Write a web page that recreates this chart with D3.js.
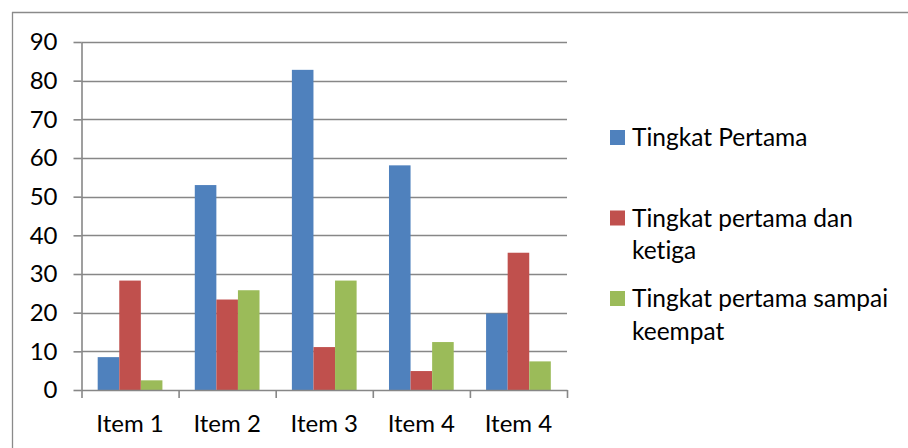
<!DOCTYPE html>
<html>
<head>
<meta charset="utf-8">
<script src="https://cdn.jsdelivr.net/npm/d3@7"></script>
<style>
  html, body { margin: 0; padding: 0; background: #fff; }
  svg { display: block; font-family: Lato, "Open Sans", sans-serif; font-variant-ligatures: none; font-feature-settings: "liga" 0, "clig" 0; }
</style>
</head>
<body>
<svg id="chart" width="908" height="448"></svg>
<script>
// Category labels (the last two share the same name)
const categories = ["Item 1", "Item 2", "Item 3", "Item 4", "Item 4"];
// Series names
const seriesNames = ["Tingkat Pertama", "Tingkat pertama dan ketiga", "Tingkat pertama sampai keempat"];
// Values per series, one per category
const tingkatPertama = [8.5, 53, 82.8, 58.1, 19.8];
const tingkatPertamaKetiga = [28.3, 23.4, 11.1, 4.9, 35.5];
const tingkatPertamaKeempat = [2.5, 25.8, 28.3, 12.4, 7.4];
const yTicks = [0, 10, 20, 30, 40, 50, 60, 70, 80, 90];
const colors = ["#4F81BD", "#C0504D", "#9BBB59"];

const seriesValues = [tingkatPertama, tingkatPertamaKetiga, tingkatPertamaKeempat];

const svg = d3.select("#chart");
const plot = { left: 81.5, right: 567, top: 42, bottom: 390 };
const gridColor = "#878787";

// Outer chart frame (top and left edges visible)
svg.append("line").attr("x1", 12).attr("x2", 908).attr("y1", 12.5).attr("y2", 12.5)
  .attr("stroke", "#8a8a8a").attr("stroke-width", 1.3);
svg.append("line").attr("x1", 12.5).attr("x2", 12.5).attr("y1", 12).attr("y2", 448)
  .attr("stroke", "#8a8a8a").attr("stroke-width", 1.3);

const y = d3.scaleLinear().domain([0, 90]).range([plot.bottom, plot.top]);
const idx = d3.range(categories.length);
const x0 = d3.scaleBand().domain(idx).range([plot.left, plot.right]).padding(0);
const x1 = d3.scaleBand().domain(d3.range(seriesNames.length))
  .range([0, x0.bandwidth()]).paddingInner(0).paddingOuter(0.75);

// Horizontal gridlines
svg.append("g").selectAll("line").data(yTicks.filter(d => d > 0)).join("line")
  .attr("x1", plot.left).attr("x2", plot.right)
  .attr("y1", d => Math.round(y(d)) + 0.5).attr("y2", d => Math.round(y(d)) + 0.5)
  .attr("stroke", gridColor).attr("stroke-width", 1.6);

// Bars
const groups = svg.append("g").selectAll("g").data(idx).join("g")
  .attr("transform", i => `translate(${x0(i)},0)`);
groups.selectAll("rect")
  .data(i => seriesValues.map((vals, s) => ({ s, v: vals[i] })))
  .join("rect")
  .attr("x", d => x1(d.s))
  .attr("width", x1.bandwidth())
  .attr("y", d => y(d.v))
  .attr("height", d => y(0) - y(d.v))
  .attr("fill", d => colors[d.s]);

// Y axis
const yAxis = d3.axisLeft(y).tickValues(yTicks).tickSizeInner(8).tickSizeOuter(0).tickPadding(16);
const gy = svg.append("g").attr("transform", `translate(${plot.left},0)`).call(yAxis);
gy.selectAll("line, path").attr("stroke", gridColor).attr("stroke-width", 1.6);
gy.selectAll("text").attr("font-size", 24).attr("fill", "#000").attr("font-family", "Lato");

// X axis: tick marks at category boundaries
const boundaries = idx.map(i => x0(i)).concat([plot.right]);
const xb = d3.scaleLinear().domain([plot.left, plot.right]).range([plot.left, plot.right]);
const gx = svg.append("g").attr("transform", `translate(0,${plot.bottom})`)
  .call(d3.axisBottom(xb).tickValues(boundaries).tickSizeInner(8).tickSizeOuter(0).tickFormat(""));
gx.selectAll("line, path").attr("stroke", gridColor).attr("stroke-width", 1.6);

// X category labels centred in each band
const gxl = svg.append("g").attr("transform", `translate(0,${plot.bottom})`)
  .call(d3.axisBottom(x0).tickSize(0).tickPadding(25).tickFormat(i => categories[i]));
gxl.select(".domain").remove();
gxl.selectAll("text").attr("font-size", 24).attr("fill", "#000").attr("font-family", "Lato");

// Legend with wrapped labels
const legendX = 610, legendTextX = 632, legendMaxW = 268;
const legendRows = [137.5, 218, 298.5];
seriesNames.forEach((name, s) => {
  const cy = legendRows[s];
  svg.append("rect").attr("x", legendX).attr("y", cy - 7.5).attr("width", 15).attr("height", 15)
    .attr("fill", colors[s]);
  const text = svg.append("text").attr("x", legendTextX).attr("y", cy)
    .attr("font-size", 24.5).attr("font-family", "Lato").attr("fill", "#000");
  const words = name.split(" ");
  let line = [];
  let tspan = text.append("tspan").attr("x", legendTextX).attr("dy", "0.35em");
  words.forEach(w => {
    line.push(w);
    tspan.text(line.join(" "));
    if (tspan.node().getComputedTextLength() > legendMaxW && line.length > 1) {
      line.pop();
      tspan.text(line.join(" "));
      line = [w];
      tspan = text.append("tspan").attr("x", legendTextX).attr("dy", "1.33em").text(w);
    }
  });
});
</script>
</body>
</html>
